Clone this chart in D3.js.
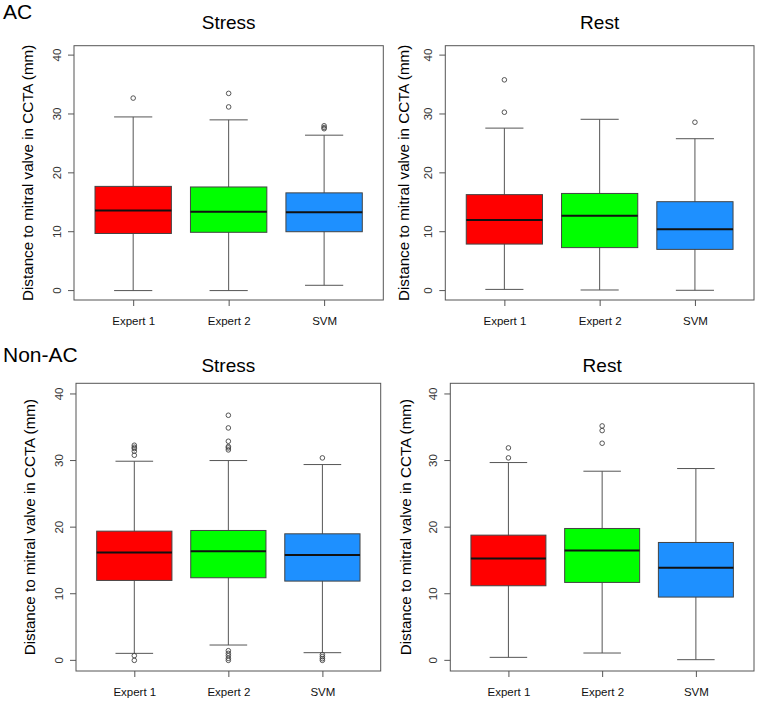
<!DOCTYPE html>
<head>
<style type="text/css">
    body {
      font-family: "Liberation Sans", Arial, sans-serif;
      margin: 0;
      background: #fff;
    }
</style>
</head>
<script src="https://d3js.org/d3.v7.min.js"></script>
<body>
    <svg width="757" height="701"></svg>
    <script>
        // categories and colours
        var methods = ["Expert 1", "Expert 2", "SVM"];
        var boxColors = ["#ff0000", "#00ff00", "#1e90ff"];
        var yTicks = [0, 10, 20, 30, 40];
        var yLabel = "Distance to mitral valve in CCTA (mm)";

        // box stats per method: [lower whisker, Q1, median, Q3, upper whisker]
        var acStress = [[0, 9.7, 13.6, 17.7, 29.5], [0, 9.9, 13.4, 17.6, 29.0], [0.9, 10.0, 13.3, 16.6, 26.4]];
        var acStressOut = [[32.7], [33.5, 31.2], [28.0, 27.7, 27.5]];

        var acRest = [[0.2, 7.9, 12.0, 16.3, 27.6], [0.1, 7.3, 12.7, 16.5, 29.1], [0.05, 7.0, 10.4, 15.1, 25.8]];
        var acRestOut = [[35.8, 30.3], [], [28.6]];

        var nonStress = [[1.05, 12.0, 16.2, 19.4, 29.9], [2.3, 12.4, 16.4, 19.5, 30.0], [1.15, 11.9, 15.8, 19.0, 29.4]];
        var nonStressOut = [[32.3, 32.0, 31.8, 31.4, 30.8, 0.7, 0.0],
                            [36.8, 34.9, 32.9, 32.1, 31.9, 31.6, 1.45, 1.05, 0.7, 0.3, 0.0],
                            [30.4, 0.85, 0.55, 0.25, 0.0]];

        var nonRest = [[0.45, 11.2, 15.3, 18.8, 29.7], [1.1, 11.7, 16.5, 19.8, 28.4], [0.1, 9.5, 13.9, 17.7, 28.8]];
        var nonRestOut = [[31.9, 30.4], [35.2, 34.5, 32.6], []];

        var svg = d3.select("svg");

        // group headings
        svg.append("text").attr("x", 3).attr("y", 19).style("font-size", "21px").text("AC");
        svg.append("text").attr("x", 3).attr("y", 362).style("font-size", "21px").text("Non-AC");

        var panels = [
            {title: "Stress", stats: acStress, out: acStressOut, x0: 74, x1: 383.3, y0: 45.7, y1: 300, ty: 29, lab: 41},
            {title: "Rest", stats: acRest, out: acRestOut, x0: 445.3, x1: 754, y0: 45.7, y1: 300, ty: 29, lab: 36},
            {title: "Stress", stats: nonStress, out: nonStressOut, x0: 76, x1: 380.7, y0: 383.3, y1: 671, ty: 372, lab: 41},
            {title: "Rest", stats: nonRest, out: nonRestOut, x0: 450.3, x1: 754, y0: 383.3, y1: 671, ty: 372, lab: 39}
        ];

        panels.forEach(drawPanel);

        function drawPanel(p) {
            var x = d3.scaleLinear().domain([0.38, 3.62]).range([p.x0, p.x1]);
            var y = d3.scaleLinear().domain([-1.6, 41.6]).range([p.y1, p.y0]);
            var step = x(2) - x(1);
            var g = svg.append("g");

            // y axis
            var ya = g.append("g")
                .attr("transform", "translate(" + p.x0 + ",0)")
                .call(d3.axisLeft(y).tickValues(yTicks).tickSize(6).tickPadding(0));
            ya.select(".domain").remove();
            ya.selectAll("line").attr("stroke", "#555");
            ya.selectAll("text")
                .attr("transform", function(d) { return "translate(-13," + y(d) + ") rotate(-90)"; })
                .attr("x", 0).attr("y", 0).attr("dy", 0)
                .attr("text-anchor", "middle")
                .style("font-family", "Liberation Sans, Arial, sans-serif")
                .style("font-size", "11.5px").attr("fill", "#333");
            ya.selectAll(".tick").attr("transform", null);
            ya.selectAll(".tick line").attr("y1", function(d) { return y(d); }).attr("y2", function(d) { return y(d); });

            // x axis
            var xa = g.append("g")
                .attr("transform", "translate(0," + p.y1 + ")")
                .call(d3.axisBottom(x).tickValues([1, 2, 3]).tickSize(6).tickPadding(11)
                    .tickFormat(function(d) { return methods[d - 1]; }));
            xa.select(".domain").remove();
            xa.selectAll("line").attr("stroke", "#555");
            xa.selectAll("text")
                .style("font-family", "Liberation Sans, Arial, sans-serif")
                .style("font-size", "11.5px").attr("fill", "#111");

            // boxes
            var bw = step * 0.8, sw = step * 0.4;
            var boxes = g.selectAll(".box").data(p.stats).enter().append("g").attr("class", "box");
            boxes.append("line")
                .attr("x1", function(d, i) { return x(i + 1); }).attr("x2", function(d, i) { return x(i + 1); })
                .attr("y1", function(d) { return y(d[0]); }).attr("y2", function(d) { return y(d[4]); })
                .attr("stroke", "#555");
            boxes.selectAll(".staple").data(function(d, i) { return [[d[0], i], [d[4], i]]; })
                .enter().append("line")
                .attr("x1", function(d) { return x(d[1] + 1) - sw / 2; })
                .attr("x2", function(d) { return x(d[1] + 1) + sw / 2; })
                .attr("y1", function(d) { return y(d[0]); }).attr("y2", function(d) { return y(d[0]); })
                .attr("stroke", "#555");
            boxes.append("rect")
                .attr("x", function(d, i) { return x(i + 1) - bw / 2; })
                .attr("width", bw)
                .attr("y", function(d) { return y(d[3]); })
                .attr("height", function(d) { return y(d[1]) - y(d[3]); })
                .attr("fill", function(d, i) { return boxColors[i]; })
                .attr("stroke", "#444");
            boxes.append("line")
                .attr("x1", function(d, i) { return x(i + 1) - bw / 2; })
                .attr("x2", function(d, i) { return x(i + 1) + bw / 2; })
                .attr("y1", function(d) { return y(d[2]); }).attr("y2", function(d) { return y(d[2]); })
                .attr("stroke", "#111").attr("stroke-width", 2);

            // outliers
            p.out.forEach(function(vals, i) {
                g.selectAll(null).data(vals).enter().append("circle")
                    .attr("cx", x(i + 1)).attr("cy", function(d) { return y(d); })
                    .attr("r", 2.3).attr("fill", "none").attr("stroke", "#444").attr("stroke-width", 0.9);
            });

            // frame
            g.append("rect")
                .attr("x", p.x0).attr("y", p.y0)
                .attr("width", p.x1 - p.x0).attr("height", p.y1 - p.y0)
                .attr("fill", "none").attr("stroke", "#555");

            // title and y label
            g.append("text")
                .attr("x", (p.x0 + p.x1) / 2).attr("y", p.ty)
                .attr("text-anchor", "middle").style("font-size", "19px")
                .text(p.title);
            g.append("text")
                .attr("transform", "translate(" + (p.x0 - p.lab) + "," + (p.y0 + p.y1) / 2 + ") rotate(-90)")
                .attr("text-anchor", "middle").style("font-size", "15.2px")
                .text(yLabel);
        }
    </script>
</body>
